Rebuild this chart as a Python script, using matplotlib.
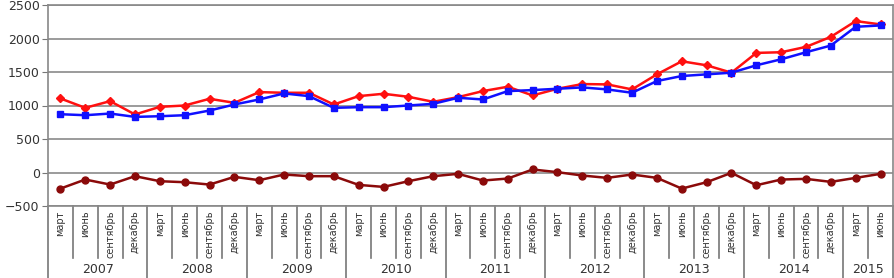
import matplotlib
matplotlib.use('Agg')
import matplotlib.pyplot as plt
import matplotlib.transforms as mtransforms
import numpy as np

# quarterly values, март 2007 .. июнь 2015
months = ['март', 'июнь', 'сентябрь', 'декабрь']
years = ['2007', '2008', '2009', '2010', '2011', '2012', '2013', '2014', '2015']

red_vals = [1105, 965, 1065, 866, 980, 1000, 1100, 1040,
            1200, 1190, 1190, 1015, 1140, 1175, 1130, 1055,
            1125, 1215, 1280, 1150, 1250, 1320, 1315, 1240,
            1465, 1660, 1600, 1490, 1785, 1795, 1875, 2025,
            2260, 2210]
blue_vals = [870, 855, 880, 830, 840, 855, 925, 1015,
             1090, 1180, 1140, 965, 975, 975, 1000, 1025,
             1115, 1090, 1215, 1230, 1250, 1270, 1240, 1190,
             1365, 1440, 1465, 1490, 1600, 1690, 1795, 1895,
             2175, 2195]
diff_vals = [-240, -105, -180, -55, -130, -145, -180, -65,
             -115, -30, -55, -55, -185, -215, -130, -55,
             -20, -120, -90, 45, 5, -45, -80, -30,
             -80, -240, -145, -5, -190, -105, -95, -140,
             -80, -20]

n = len(red_vals)
labels = [months[i % 4] for i in range(n)]
x = np.arange(n)

fig = plt.figure(figsize=(8.95, 2.78), dpi=100)
ax = fig.add_axes([48/895, 1-206/278, (893-48)/895, (206-5)/278])

ax.plot(x, red_vals, color='#ff1010', lw=1.8, marker='D', ms=4.5, zorder=3)
ax.plot(x, blue_vals, color='#1010ff', lw=1.8, marker='s', ms=4.5, zorder=4)
ax.plot(x, diff_vals, color='#8b0a0a', lw=1.8, marker='o', ms=5, zorder=3)

ax.set_xlim(-0.5, n - 0.5)
ax.set_ylim(-500, 2500)
ax.set_yticks(range(-500, 2501, 500))
ax.yaxis.grid(True, color='#8a8a8a', lw=1.2)
ax.set_axisbelow(True)
ax.tick_params(axis='y', labelsize=9, labelcolor='#333333', color='#777777',
               length=4, pad=2)

ax.set_xticks(x)
ax.set_xticklabels(labels, rotation=90, fontsize=7, color='#333333')
ax.tick_params(axis='x', length=0, pad=3)

for s in ax.spines.values():
    s.set_color('#888888')
    s.set_linewidth(1.2)

# category and year separators below the axis
trans = mtransforms.blended_transform_factory(ax.transData, ax.transAxes)
for b in np.arange(-0.5, n, 1.0):
    k = int(b + 0.5)
    if k % 4 == 0 or k == n:
        y0 = -0.37
    else:
        y0 = -0.26
    ax.plot([b, b], [0, y0], transform=trans, color='#777777', lw=1.2,
            clip_on=False)

for j, yr in enumerate(years):
    start = j * 4
    end = min(start + 4, n)
    ax.text((start + end - 1) / 2, -0.315, yr, transform=trans, ha='center',
            va='center', fontsize=9, color='#333333')

fig.savefig('out.png', dpi=100)
